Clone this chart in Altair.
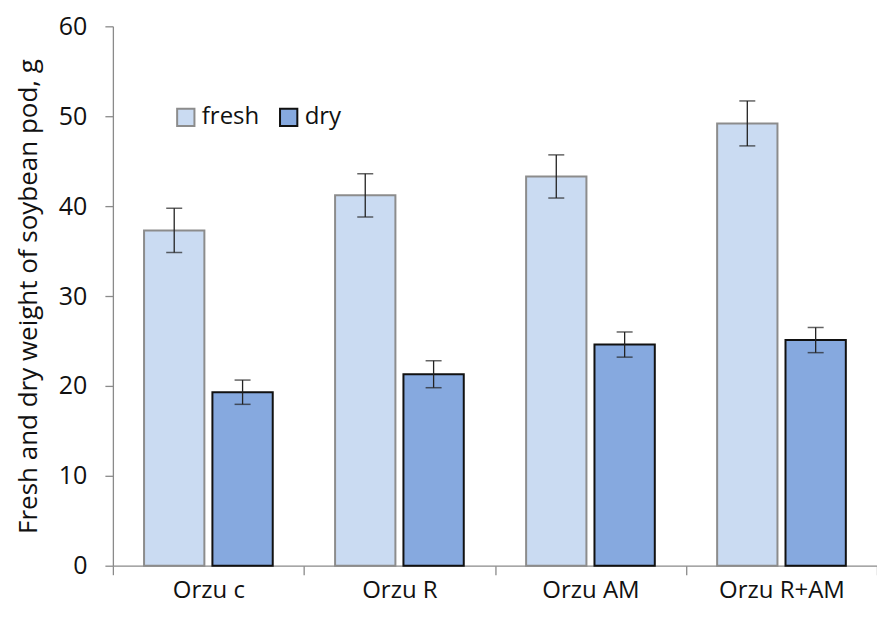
import altair as alt
import pandas as pd

categories = ["Orzu c", "Orzu R", "Orzu AM", "Orzu R+AM"]
fresh = [37.3, 41.2, 43.3, 49.2]
fresh_err = [2.45, 2.4, 2.4, 2.5]
dry = [19.3, 21.3, 24.6, 25.1]
dry_err = [1.35, 1.5, 1.4, 1.4]
series = ["fresh", "dry"]

rows = []
for c, v, e in zip(categories, fresh, fresh_err):
    rows.append({"cat": c, "series": "fresh", "value": v, "lo": v - e, "hi": v + e})
for c, v, e in zip(categories, dry, dry_err):
    rows.append({"cat": c, "series": "dry", "value": v, "lo": v - e, "hi": v + e})
df = pd.DataFrame(rows)

FONT = "Open Sans"

x = alt.X("cat:N", sort=categories, title=None,
          scale=alt.Scale(paddingInner=0, paddingOuter=0),
          axis=alt.Axis(tickBand="extent", labelAngle=0, labelFontSize=24,
                        labelFont=FONT, labelColor="#111", labelPadding=4,
                        domainColor="#8a8a8a", tickColor="#8a8a8a", tickSize=9,
                        domainWidth=1.3, tickWidth=1.3))
xo = alt.XOffset("series:N", sort=series,
                 scale=alt.Scale(paddingInner=0.1176, paddingOuter=0.456))

bars = alt.Chart(df).mark_bar(strokeWidth=2).encode(
    x=x, xOffset=xo,
    y=alt.Y("value:Q", scale=alt.Scale(domain=[0, 60]),
            title="Fresh and dry weight of soybean pod, g",
            axis=alt.Axis(values=[0, 10, 20, 30, 40, 50, 60], grid=False,
                          labelFontSize=25, labelFont=FONT, labelColor="#111",
                          labelPadding=18, tickSize=8, tickColor="#8a8a8a",
                          domainColor="#8a8a8a", domainWidth=1.3, tickWidth=1.3,
                          titleFont=FONT, titleFontSize=26, titleFontWeight="normal",
                          titleColor="#111", titlePadding=17)),
    fill=alt.Fill("series:N", sort=series,
                  scale=alt.Scale(domain=series, range=["#cadbf2", "#86a9df"]),
                  legend=alt.Legend(title=None, orient="none", legendX=61, legendY=79,
                                    direction="horizontal", symbolType="square",
                                    symbolSize=300, labelFontSize=24, labelFont=FONT,
                                    labelColor="#111", columnPadding=16, labelOffset=4,
                                    symbolStrokeWidth=2)),
    stroke=alt.Stroke("series:N", sort=series,
                      scale=alt.Scale(domain=series, range=["#8c8c8c", "#111111"]),
                      legend=None),
)

rules = alt.Chart(df).mark_rule(color="#222", strokeWidth=1.3).encode(
    x=x, xOffset=xo, y="lo:Q", y2="hi:Q")
caps_lo = alt.Chart(df).mark_tick(color="#222", thickness=1.5, size=16).encode(
    x=x, xOffset=xo, y="lo:Q")
caps_hi = alt.Chart(df).mark_tick(color="#222", thickness=1.5, size=16).encode(
    x=x, xOffset=xo, y="hi:Q")

chart = alt.layer(bars, rules, caps_lo, caps_hi).properties(
    width=765, height=540,
    autosize=alt.AutoSizeParams(type="none"),
    padding={"left": 105, "top": 18, "right": 0, "bottom": 44},
).configure_view(stroke=None)

chart.save("out.html", embed_options={"renderer": "svg", "actions": False})
